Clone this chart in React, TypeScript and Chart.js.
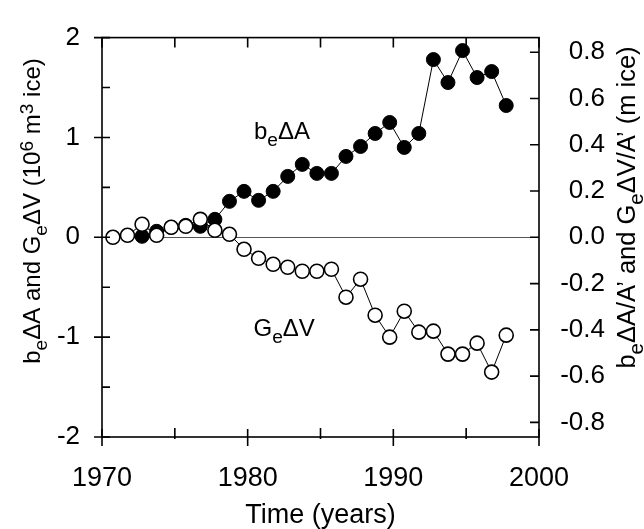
import React, { useEffect, useRef } from 'react';
import { Chart, registerables } from 'chart.js';

Chart.register(...registerables);

// ---- data ----
const openYears = [
  1970.75, 1971.75, 1972.75, 1973.75, 1974.75, 1975.75, 1976.75, 1977.75, 1978.75, 1979.75,
  1980.75, 1981.75, 1982.75, 1983.75, 1984.75, 1985.75, 1986.75, 1987.75, 1988.75, 1989.75,
  1990.75, 1991.75, 1992.75, 1993.75, 1994.75, 1995.75, 1996.75, 1997.75,
];
const openValues = [
  0.0, 0.02, 0.13, 0.02, 0.1, 0.11, 0.18, 0.07, 0.03, -0.12,
  -0.21, -0.27, -0.3, -0.34, -0.34, -0.32, -0.6, -0.42, -0.78, -1.0,
  -0.74, -0.95, -0.94, -1.17, -1.17, -1.06, -1.35, -0.98,
];
const filledYears = [
  1972.75, 1973.75, 1974.75, 1975.75, 1976.75, 1977.75, 1978.75, 1979.75,
  1980.75, 1981.75, 1982.75, 1983.75, 1984.75, 1985.75, 1986.75, 1987.75, 1988.75, 1989.75,
  1990.75, 1991.75, 1992.75, 1993.75, 1994.75, 1995.75, 1996.75, 1997.75,
];
const filledValues = [
  0.01, 0.06, 0.1, 0.12, 0.11, 0.18, 0.36, 0.46,
  0.37, 0.46, 0.61, 0.73, 0.64, 0.64, 0.81, 0.91, 1.04, 1.15,
  0.9, 1.04, 1.78, 1.55, 1.87, 1.6, 1.66, 1.32,
];

const xTicksMajor = [1970, 1980, 1990, 2000];
const xTicksMinor = [1975, 1985, 1995];
const leftTicks = [-2, -1, 0, 1, 2];
const leftMinor = [-1.5, -0.5, 0.5, 1.5];
const rightTicks = [-0.8, -0.6, -0.4, -0.2, 0, 0.2, 0.4, 0.6, 0.8];
const leftLimit = 2;
const rightLimit = 0.863;

const xTitle = 'Time (years)';
type Seg = { t: string; s?: 'sub' | 'sup' };
const leftTitle: Seg[] = [
  { t: 'b' }, { t: 'e', s: 'sub' }, { t: 'ΔA and G' }, { t: 'e', s: 'sub' },
  { t: 'ΔV (10' }, { t: '6', s: 'sup' }, { t: ' m' }, { t: '3', s: 'sup' }, { t: ' ice)' },
];
const rightTitle: Seg[] = [
  { t: 'b' }, { t: 'e', s: 'sub' }, { t: 'ΔA/A’ and G' }, { t: 'e', s: 'sub' }, { t: 'ΔV/A’ (m ice)' },
];
const labelA: Seg[] = [{ t: 'b' }, { t: 'e', s: 'sub' }, { t: 'ΔA' }];
const labelV: Seg[] = [{ t: 'G' }, { t: 'e', s: 'sub' }, { t: 'ΔV' }];
const labelAPos = { x: 1980.43, y: 0.983 };
const labelVPos = { x: 1980.4, y: -0.99 };

const FONT = "'Liberation Sans', Arial, Helvetica, sans-serif";

function drawRich(
  ctx: CanvasRenderingContext2D,
  segs: Seg[],
  size: number,
  x: number,
  y: number,
  align: 'left' | 'center',
  rotate: boolean
) {
  ctx.save();
  ctx.translate(x, y);
  if (rotate) ctx.rotate(-Math.PI / 2);
  const small = size * 0.8;
  const widths = segs.map((s) => {
    ctx.font = `${s.s ? small : size}px ${FONT}`;
    return ctx.measureText(s.t).width;
  });
  const total = widths.reduce((a, b) => a + b, 0);
  let cx = align === 'center' ? -total / 2 : 0;
  ctx.textBaseline = 'alphabetic';
  ctx.textAlign = 'left';
  ctx.fillStyle = '#000';
  segs.forEach((s, i) => {
    ctx.font = `${s.s ? small : size}px ${FONT}`;
    const dy = s.s === 'sub' ? size * 0.3 : s.s === 'sup' ? -size * 0.28 : 0;
    ctx.fillText(s.t, cx, dy);
    cx += widths[i];
  });
  ctx.restore();
}

const framePlugin = {
  id: 'frameTicks',
  afterDraw(chart: any) {
    const { ctx, chartArea: a, scales } = chart;
    const x = scales.x;
    const yl = scales.y;
    const yr = scales.y1;
    ctx.save();
    ctx.strokeStyle = '#000';
    ctx.lineWidth = 1.6;
    ctx.strokeRect(a.left, a.top, a.right - a.left, a.bottom - a.top);
    ctx.beginPath();
    xTicksMajor.forEach((v) => {
      const p = x.getPixelForValue(v);
      ctx.moveTo(p, a.bottom + 9);
      ctx.lineTo(p, a.bottom - 8);
      ctx.moveTo(p, a.top);
      ctx.lineTo(p, a.top + 10);
    });
    xTicksMinor.forEach((v) => {
      const p = x.getPixelForValue(v);
      ctx.moveTo(p, a.bottom + 2);
      ctx.lineTo(p, a.bottom - 9);
      ctx.moveTo(p, a.top);
      ctx.lineTo(p, a.top + 10);
    });
    leftTicks.forEach((v) => {
      const p = yl.getPixelForValue(v);
      ctx.moveTo(a.left - 8, p);
      ctx.lineTo(a.left + 8, p);
    });
    leftMinor.forEach((v) => {
      const p = yl.getPixelForValue(v);
      ctx.moveTo(a.left, p);
      ctx.lineTo(a.left + 8, p);
    });
    rightTicks.forEach((v) => {
      const p = yr.getPixelForValue(v);
      ctx.moveTo(a.right, p);
      ctx.lineTo(a.right - 9, p);
    });
    ctx.stroke();

    drawRich(ctx, leftTitle, 24, 39.5, 211, 'center', true);
    drawRich(ctx, rightTitle, 25.5, 635, 207.5, 'center', true);
    drawRich(ctx, labelA, 24, x.getPixelForValue(labelAPos.x), yl.getPixelForValue(labelAPos.y), 'left', false);
    drawRich(ctx, labelV, 24, x.getPixelForValue(labelVPos.x), yl.getPixelForValue(labelVPos.y), 'left', false);
    ctx.restore();
  },
};

export default function App() {
  const ref = useRef<HTMLCanvasElement>(null);
  useEffect(() => {
    document.body.style.margin = '0';
    if (!ref.current) return;
    const chart = new Chart(ref.current, {
      type: 'line',
      data: {
        datasets: [
          {
            label: 'GeΔV',
            data: openYears.map((yr, i) => ({ x: yr, y: openValues[i] })),
            borderColor: '#000',
            borderWidth: 1,
            pointRadius: 7,
            pointBorderWidth: 1.6,
            pointBackgroundColor: '#fff',
            pointBorderColor: '#000',
            yAxisID: 'y',
          },
          {
            label: 'beΔA',
            data: filledYears.map((yr, i) => ({ x: yr, y: filledValues[i] })),
            borderColor: '#000',
            borderWidth: 1,
            pointRadius: 7,
            pointBorderWidth: 1,
            pointBackgroundColor: '#000',
            pointBorderColor: '#000',
            yAxisID: 'y',
          },
        ],
      },
      options: {
        animation: false,
        responsive: false,
        maintainAspectRatio: false,
        layout: { padding: { top: 20, right: 39, left: 0, bottom: 0 } },
        plugins: { legend: { display: false }, tooltip: { enabled: false } },
        scales: {
          x: {
            type: 'linear',
            position: 'bottom',
            min: 1970,
            max: 2000,
            afterBuildTicks: (s: any) => {
              s.ticks = xTicksMajor.map((v) => ({ value: v }));
            },
            afterFit: (s: any) => {
              s.height = 92;
            },
            grid: { display: false, drawTicks: false },
            border: { display: false },
            ticks: {
              padding: 25,
              font: { family: FONT, size: 27 },
              color: '#000',
              maxRotation: 0,
              autoSkip: false,
              callback: (v: any) => String(v),
            },
            title: {
              display: true,
              text: xTitle,
              font: { family: FONT, size: 27, lineHeight: 1 },
              color: '#000',
              padding: { top: 0, bottom: 0 },
            },
          },
          y: {
            type: 'linear',
            position: 'left',
            min: -leftLimit,
            max: leftLimit,
            afterBuildTicks: (s: any) => {
              s.ticks = leftTicks.map((v) => ({ value: v }));
            },
            afterFit: (s: any) => {
              s.width = 102;
            },
            grid: {
              drawTicks: false,
              lineWidth: 1,
              color: (c: any) => (c.tick && c.tick.value === 0 ? '#555' : 'rgba(0,0,0,0)'),
            },
            border: { display: false },
            ticks: {
              padding: 22,
              font: { family: FONT, size: 26 },
              color: '#000',
              callback: (v: any) => String(v),
            },
          },
          y1: {
            type: 'linear',
            position: 'right',
            min: -rightLimit,
            max: rightLimit,
            afterBuildTicks: (s: any) => {
              s.ticks = rightTicks.map((v) => ({ value: v }));
            },
            afterFit: (s: any) => {
              s.width = 66;
            },
            grid: { display: false, drawTicks: false },
            border: { display: false },
            ticks: {
              crossAlign: 'far',
              font: { family: FONT, size: 26 },
              color: '#000',
              callback: (v: any) => Number(v).toFixed(1),
            },
          },
        },
      },
      plugins: [framePlugin],
    } as any);
    return () => chart.destroy();
  }, []);
  return <canvas ref={ref} width={644} height={529} style={{ display: 'block' }} />;
}
